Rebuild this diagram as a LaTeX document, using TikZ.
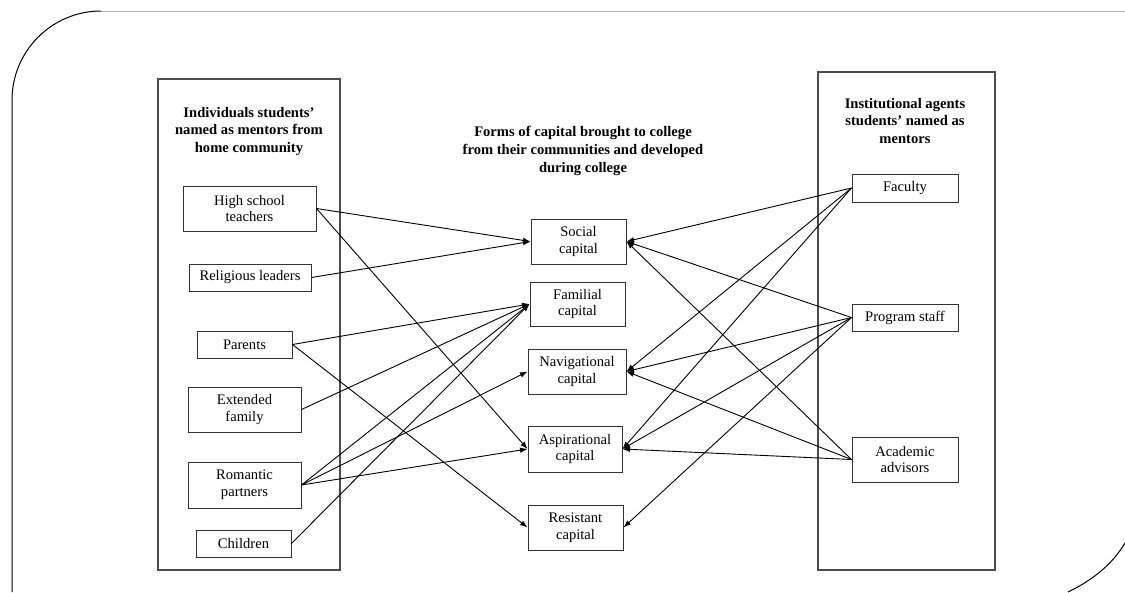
\documentclass[tikz,border=0pt]{standalone}
\usepackage{fontspec}
\setmainfont{Liberation Serif}
\usetikzlibrary{arrows.meta}
\begin{document}
\begin{tikzpicture}[x=1pt,y=-1pt,
  box/.style={draw=black!80,line width=1pt,inner sep=0pt,align=center,
    font=\fontsize{14.6}{16.8}\selectfont},
  panel/.style={draw=black!70,line width=1.1pt},
  ttl/.style={align=center,font=\fontsize{14.6}{17.6}\selectfont\bfseries},
  conn/.style={draw=black,line width=0.9pt,-{Latex[length=7.5pt,width=5.5pt]}}]
\useasboundingbox (0,0) rectangle (1125,592);
% frame
\draw[black!30,line width=1pt] (101,11) -- (1125,11);
\draw[black,line width=1pt] (101,11) .. controls (52,11) and (12,51) .. (12,100) -- (12,592);
\draw[black,line width=1pt] (1125,543) .. controls (1112,565) and (1091,581) .. (1068,592);
% panels
\draw[panel] (158,79) rectangle (340,570);
\draw[panel] (818,72) rectangle (995,570);
% titles
\node[ttl] (tl) at (249,131.5) {Individuals students’\\named as mentors from\\home community};
\node[ttl] (tm) at (583,151) {Forms of capital brought to college\\from their communities and developed\\during college};
\node[ttl] (tr) at (905,121) {Institutional agents\\students’ named as\\mentors};
% left nodes
\node[box,minimum width=133pt,minimum height=45pt] (hst) at (249.5,208.5) {High school\\teachers};
\node[box,minimum width=122pt,minimum height=27pt] (rel) at (250,277.5) {Religious leaders};
\node[box,minimum width=95pt,minimum height=27pt] (par) at (244.5,344.5) {Parents};
\node[box,minimum width=113pt,minimum height=45pt] (ext) at (244.5,409.5) {Extended\\family};
\node[box,minimum width=113pt,minimum height=46pt] (rom) at (244.5,485) {Romantic\\partners};
\node[box,minimum width=95pt,minimum height=27pt] (chi) at (243.5,543.5) {Children};
% middle nodes
\node[box,minimum width=95pt,minimum height=45pt] (soc) at (578.5,241.5) {Social\\capital};
\node[box,minimum width=95pt,minimum height=44pt] (fam) at (577.5,304) {Familial\\capital};
\node[box,minimum width=98pt,minimum height=45pt] (nav) at (577,371.5) {Navigational\\capital};
\node[box,minimum width=94pt,minimum height=46pt] (asp) at (575,449) {Aspirational\\capital};
\node[box,minimum width=95pt,minimum height=45pt] (res) at (575.5,527.5) {Resistant\\capital};
% right nodes
\node[box,minimum width=106pt,minimum height=28pt] (fac) at (905,188) {Faculty};
\node[box,minimum width=106pt,minimum height=27pt] (pro) at (905,317.5) {Program staff};
\node[box,minimum width=106pt,minimum height=45pt] (aca) at (905,459.5) {Academic\\advisors};
% left connectors
\draw[conn] (hst.east) -- (soc.west);
\draw[conn] (hst.east) -- (asp.west);
\draw[conn] (rel.east) -- (soc.west);
\draw[conn] (par.east) -- (fam.west);
\draw[conn] (par.east) -- (res.west);
\draw[conn] (ext.east) -- (fam.west);
\draw[conn] (rom.east) -- (fam.west);
\draw[conn] (rom.east) -- (nav.west);
\draw[conn] (rom.east) -- (asp.west);
\draw[conn] (chi.east) -- (fam.west);
% right connectors
\draw[conn] (fac.west) -- (soc.east);
\draw[conn] (fac.west) -- (nav.east);
\draw[conn] (fac.west) -- (asp.east);
\draw[conn] (pro.west) -- (soc.east);
\draw[conn] (pro.west) -- (nav.east);
\draw[conn] (pro.west) -- (asp.east);
\draw[conn] (pro.west) -- (res.east);
\draw[conn] (aca.west) -- (soc.east);
\draw[conn] (aca.west) -- (nav.east);
\draw[conn] (aca.west) -- (asp.east);
\end{tikzpicture}
\end{document}
